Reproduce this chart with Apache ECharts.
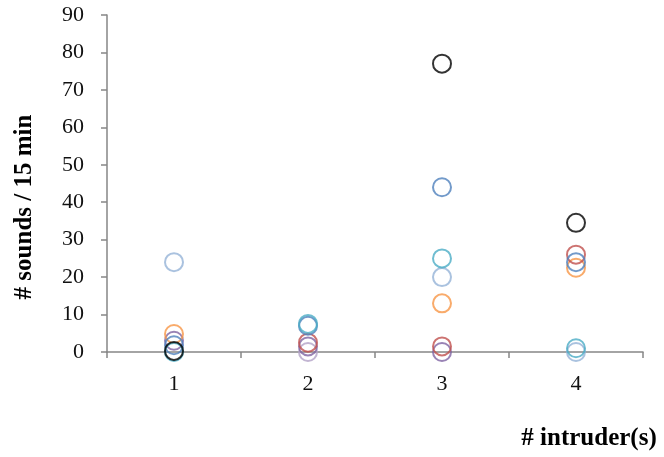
<!DOCTYPE html>
<html><head><meta charset="utf-8">
<script src="https://cdn.jsdelivr.net/npm/echarts@6/dist/echarts.min.js"></script>
<style>html,body{margin:0;padding:0;background:#fff}#c{width:664px;height:457px}</style>
</head><body><div id="c"></div>
<script>
var categories = ['1', '2', '3', '4'];
var yTicks = [0, 10, 20, 30, 40, 50, 60, 70, 80, 90];
var blackVals = [0.3, null, 77, 34.5];
var blueVals = [1.8, 7, 44, 24];
var redVals = [null, 2.5, 1.5, 26];
var orangeVals = [4.8, null, 13, 22.5];
var tealVals = [0, 7.5, 25, 1];
var purpleVals = [3, 1.5, 0, null];
var lightBlueVals = [24, null, 20, 0];
var lightPurpleVals = [null, 0, null, null];

var seriesDefs = [
  ['light purple', lightPurpleVals, '#B3A2C7'],
  ['light blue', lightBlueVals, '#95B3D7'],
  ['purple', purpleVals, '#8064A2'],
  ['orange', orangeVals, '#F79646'],
  ['red', redVals, '#C0504D'],
  ['blue', blueVals, '#4F81BD'],
  ['teal', tealVals, '#4BACC6'],
  ['black', blackVals, '#000000']
];

var chart = echarts.init(document.getElementById('c'));
var axisStyle = {color: '#868686', width: 1.5};
chart.setOption({
  animation: false,
  grid: {left: 107, right: 21, top: 15, bottom: 105},
  xAxis: {
    type: 'category', data: categories, boundaryGap: true,
    axisLine: {lineStyle: axisStyle},
    axisTick: {show: true, length: 6, lineStyle: axisStyle, alignWithLabel: false},
    axisLabel: {fontFamily: 'Liberation Serif', fontSize: 22, color: '#111', margin: 21},
    splitLine: {show: false}
  },
  yAxis: {
    type: 'value', min: yTicks[0], max: yTicks[yTicks.length - 1], interval: 10,
    axisLine: {show: true, lineStyle: axisStyle},
    axisTick: {show: true, length: 6, lineStyle: axisStyle},
    axisLabel: {fontFamily: 'Liberation Serif', fontSize: 22, color: '#111', margin: 23},
    splitLine: {show: false}
  },
  graphic: [
    {type: 'text', x: 25, y: 207, rotation: Math.PI / 2,
     style: {text: '# sounds / 15 min', fontFamily: 'Liberation Serif', fontWeight: 'bold', fontSize: 25,
             fill: '#000', textAlign: 'center', textVerticalAlign: 'middle'}},
    {type: 'text', x: 589, y: 439,
     style: {text: '# intruder(s)', fontFamily: 'Liberation Serif', fontWeight: 'bold', fontSize: 25,
             fill: '#000', textAlign: 'center', textVerticalAlign: 'middle'}}
  ],
  series: seriesDefs.map(function (d) {
    return {
      name: d[0], type: 'scatter', data: d[1], symbol: 'circle', symbolSize: 18,
      itemStyle: {color: 'rgba(0,0,0,0)', borderColor: d[2], borderWidth: 2}
    };
  })
});
</script></body></html>
